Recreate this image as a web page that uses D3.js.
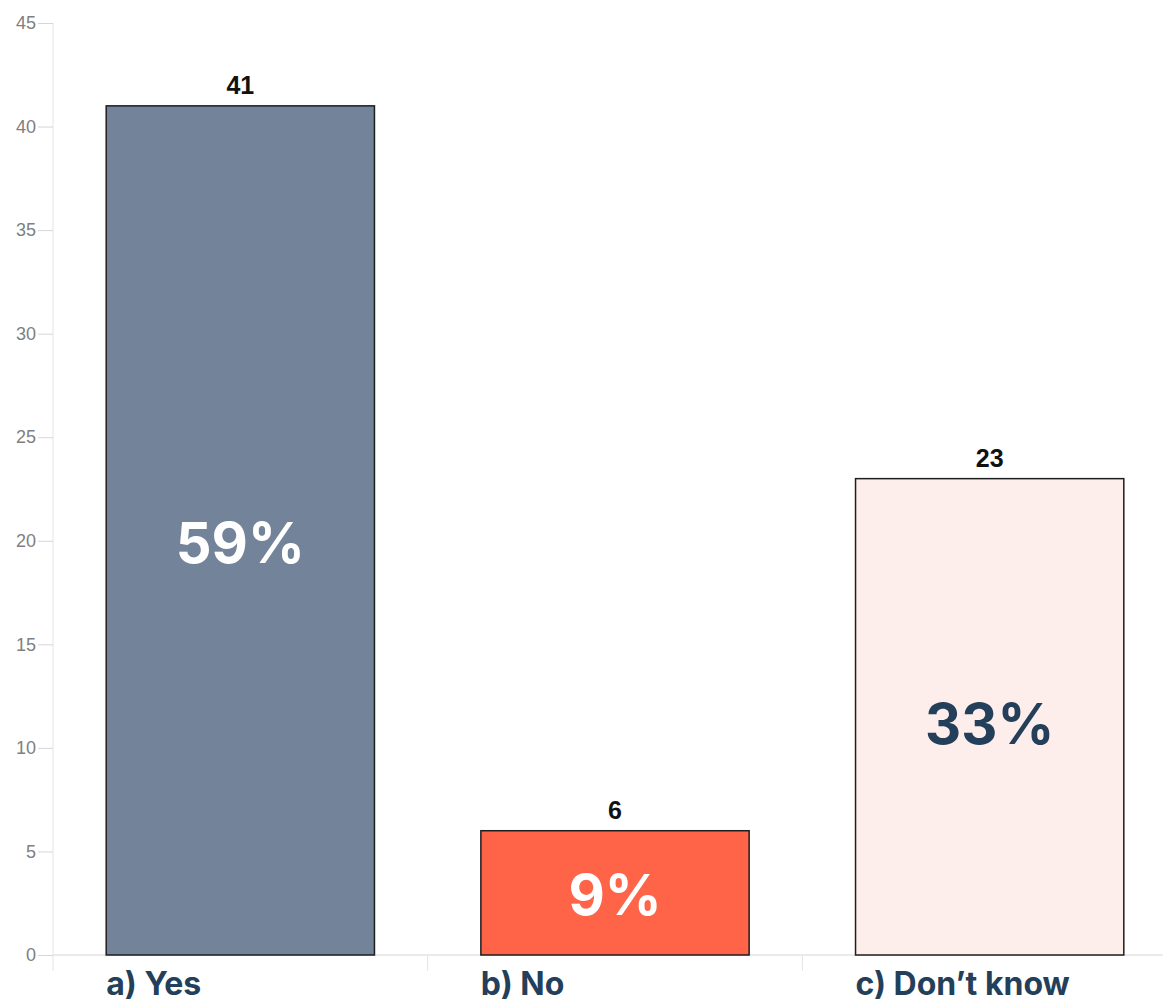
<!DOCTYPE html>
<html>
<head>
<meta charset="utf-8">
<script src="https://cdn.jsdelivr.net/npm/d3@7"></script>
<style>
  body { margin: 0; background: #fff; }
  svg { display: block; font-family: "Liberation Sans", Arial, sans-serif; }
</style>
</head>
<body>
<div id="chart"></div>
<script>
// data
const categories = ["a) Yes", "b) No", "c) Don\u2019t know"]
const counts = [41, 6, 23]
const percents = ["59%", "9%", "33%"]
const yTicks = [0, 5, 10, 15, 20, 25, 30, 35, 40, 45]

const barColors = ["#738399", "#ff6449", "#fdeeeb"]
const pctColors = ["#ffffff", "#ffffff", "#243f5a"]

const W = 1163, H = 1002
const margin = {top: 23, right: 0, bottom: 47, left: 53}
const plotBottom = H - margin.bottom   // y of value 0

const svg = d3.select("#chart").append("svg")
    .attr("width", W)
    .attr("height", H)

const x = d3.scaleBand()
    .domain(categories)
    .range([margin.left, 1177])
    .paddingInner(0.284)
    .paddingOuter(0.142)

const y = d3.scaleLinear()
    .domain([0, 45])
    .range([plotBottom, margin.top])

// band edges used for the small x ticks
const edges = d3.scaleBand().domain(categories).range([margin.left, 1177])

// y axis line
svg.append("line")
    .attr("x1", margin.left).attr("x2", margin.left)
    .attr("y1", y(45)).attr("y2", plotBottom + 16)
    .attr("stroke", "#e3e3e3").attr("stroke-width", 1)

// x axis line
svg.append("line")
    .attr("x1", margin.left).attr("x2", W)
    .attr("y1", plotBottom).attr("y2", plotBottom)
    .attr("stroke", "#e3e3e3").attr("stroke-width", 1.5)

// x ticks at band boundaries
svg.append("g").selectAll("line")
    .data(categories.slice(1))
    .join("line")
    .attr("x1", d => edges(d)).attr("x2", d => edges(d))
    .attr("y1", plotBottom).attr("y2", plotBottom + 16)
    .attr("stroke", "#e3e3e3")

// y axis ticks + labels
const yAxis = svg.append("g")
    .attr("transform", `translate(${margin.left},0)`)
    .call(d3.axisLeft(y).tickValues(yTicks).tickSize(15).tickPadding(2))
yAxis.select(".domain").remove()
yAxis.selectAll(".tick line").attr("stroke", "#d6d6d6")
yAxis.selectAll(".tick text")
    .attr("fill", "#808080")
    .style("font-size", "18px")
    .style("font-family", "'Liberation Sans', Arial, sans-serif")

// bars
svg.append("g").selectAll("rect")
    .data(counts)
    .join("rect")
    .attr("x", (d, i) => x(categories[i]))
    .attr("y", d => y(d))
    .attr("width", x.bandwidth())
    .attr("height", d => plotBottom - y(d))
    .attr("fill", (d, i) => barColors[i])
    .attr("stroke", "#1e1e1e")
    .attr("stroke-width", 1.5)

// count labels on top
svg.append("g").selectAll("text")
    .data(counts)
    .join("text")
    .attr("x", (d, i) => x(categories[i]) + x.bandwidth() / 2)
    .attr("y", d => y(d) - 12)
    .attr("text-anchor", "middle")
    .style("font-size", "25px")
    .style("font-weight", "bold")
    .attr("fill", "#111")
    .text(d => d)

// percentage labels inside bars
svg.append("g").selectAll("text")
    .data(counts)
    .join("text")
    .attr("x", (d, i) => x(categories[i]) + x.bandwidth() / 2)
    .attr("y", d => y(d * 0.485))
    .attr("dy", "0.36em")
    .attr("text-anchor", "middle")
    .style("font-family", "Inter, 'DejaVu Sans', sans-serif")
    .style("font-size", "56px")
    .style("font-weight", "bold")
    .attr("fill", (d, i) => pctColors[i])
    .text((d, i) => percents[i])

// category labels, left aligned under each bar
svg.append("g").selectAll("text")
    .data(categories)
    .join("text")
    .attr("x", d => x(d))
    .attr("y", 995)
    .style("font-family", "Inter, 'DejaVu Sans', sans-serif")
    .style("font-size", "32px")
    .style("font-weight", "bold")
    .attr("fill", "#243f5a")
    .text(d => d)
</script>
</body>
</html>
